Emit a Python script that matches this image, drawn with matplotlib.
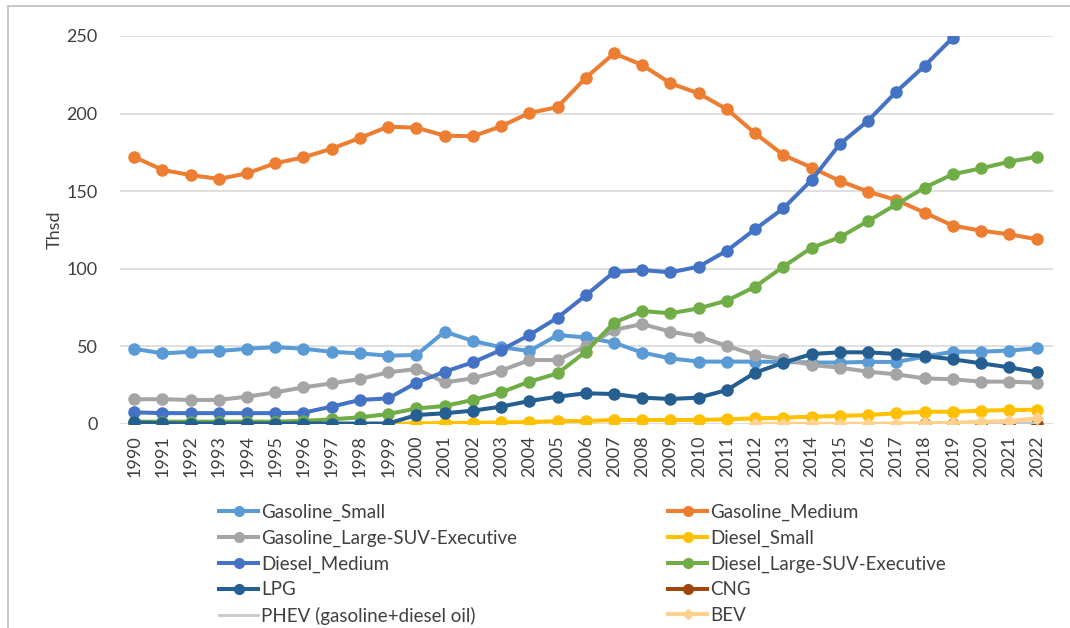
import numpy as np
import matplotlib
matplotlib.use("Agg")
import matplotlib.pyplot as plt
from matplotlib.lines import Line2D

plt.rcParams['font.family'] = ['Lato', 'DejaVu Sans']

years = list(range(1990, 2023))
nan = np.nan

gasoline_small = [48.5, 45.5, 46.5, 47, 48.5, 49.5, 48.5, 46.5, 45.5, 44, 44.5,
                  59.5, 53.5, 49.5, 47, 57.3, 55.8, 52.4, 46, 42.3, 40.2, 40.2,
                  40.2, 40, 39.6, 39.6, 40, 40, 43.4, 46.6, 46.6, 47.3, 48.8]
gasoline_medium = [172.2, 163.7, 160.4, 157.9, 161.5, 168, 171.8, 177.4, 184.3, 191.6, 190.9,
                   185.8, 185.4, 191.8, 200.4, 204.2, 223.1, 238.8, 231.3, 219.5, 213, 202.8,
                   187.3, 173.3, 165.2, 156.6, 149.7, 144.3, 136.2, 127.8, 124.6, 122.2, 119]
gasoline_large = [15.9, 16, 15.5, 15.5, 17.6, 20.4, 23.6, 26.2, 29, 33.3, 35.4,
                  26.8, 29.4, 34.4, 41.2, 41.2, 50, 60.6, 64.4, 59.5, 56.3, 50.3,
                  44.5, 41.7, 38, 36.3, 33.7, 32, 29.4, 28.8, 27.3, 27.3, 26.6]
diesel_small = [0, 0, 0, 0, 0, 0, 0, 0, 0, 0, 0.4,
                0.6, 0.8, 1, 1.2, 1.9, 1.9, 2.6, 2.6, 2.6, 2.6, 3,
                3.6, 4.1, 4.7, 5.2, 5.8, 6.9, 7.9, 7.9, 8.6, 9, 9.2]
diesel_medium = [7.5, 7, 7, 7, 7, 7, 7.3, 11.2, 15.5, 16.5, 26.6,
                 33.7, 39.7, 47.7, 57.3, 68.5, 82.9, 97.9, 99.2, 97.7, 101.4, 111.7,
                 125.5, 139, 157.2, 180.4, 195.4, 214.1, 230.7, 248.9, nan, nan, nan]
diesel_large = [1.5, 1.5, 1.5, 1.5, 1.5, 1.5, 2, 3, 4.3, 6.4, 10,
                11.6, 15.5, 20.4, 27.3, 32.6, 46.6, 65.3, 72.8, 71.3, 74.5, 79.5,
                88.5, 101.4, 113.6, 120.3, 130.8, 141.5, 152.3, 160.9, 164.7, 169, 172.2]
lpg = [1, 0.5, 0.3, 0.3, 0.3, 0.3, 0.3, 0.3, 0.3, 0.3, 5.8,
       6.9, 8.6, 11.2, 14.8, 17.6, 19.8, 19.3, 17, 16.1, 17, 21.9,
       33.1, 39.5, 45.1, 46.2, 46.2, 45.1, 43.8, 41.7, 39.1, 36.5, 33.3]
cng = [nan] * 28 + [0.2, 0.2, 0.1, 0.1, 0.1]
phev = [nan] * 22 + [0, 0, 0, 0.1, 0.1, 0.1, 0.2, 0.3, 0.4, 0.5, 0.6]
bev = [nan] * 22 + [0.2, 0.2, 0.2, 0.2, 0.2, 0.3, 0.6, 0.6, 1.5, 1.9, 3.7]

series = [
    ("Gasoline_Small", gasoline_small, "#5B9BD5", "o"),
    ("Gasoline_Medium", gasoline_medium, "#ED7D31", "o"),
    ("Gasoline_Large-SUV-Executive", gasoline_large, "#A5A5A5", "o"),
    ("Diesel_Small", diesel_small, "#FFC000", "o"),
    ("Diesel_Medium", diesel_medium, "#4472C4", "o"),
    ("Diesel_Large-SUV-Executive", diesel_large, "#70AD47", "o"),
    ("LPG", lpg, "#255E91", "o"),
    ("CNG", cng, "#9E480E", "o"),
    ("PHEV (gasoline+diesel oil)", phev, "#C9C9C9", None),
    ("BEV", bev, "#FFD18C", "D"),
]

fs = 13
txt_col = "#404040"

fig = plt.figure(figsize=(10.7, 6.28), dpi=100)
ax = fig.add_axes([120 / 1070, 1 - 424 / 628, 933 / 1070, 388 / 628])

handles = []
for name, vals, color, mk in series:
    if mk is None:
        ax.plot(years, vals, color=color, lw=2.0)
        h = Line2D([], [], color=color, lw=2.0)
    else:
        ms = 8 if mk == "o" else 6.5
        ax.plot(years, vals, color=color, lw=2.9, marker=mk, ms=ms)
        h = Line2D([], [], color=color, lw=2.9, marker=mk, ms=ms - 1)
    handles.append((h, name))

ax.set_xlim(1989.5, 2022.55)
ax.set_ylim(0, 250)
ax.set_yticks([0, 50, 100, 150, 200, 250])
ax.set_xticks(years)
ax.set_xticklabels([str(y) for y in years], rotation=90)
ax.tick_params(axis='both', length=0, labelsize=fs, colors=txt_col)
ax.tick_params(axis='y', pad=16)
ax.tick_params(axis='x', pad=8)
ax.grid(axis='y', color="#D9D9D9", lw=1.2)
ax.set_axisbelow(True)
for s in ax.spines.values():
    s.set_visible(False)
ax.set_ylabel("Thsd", fontsize=fs, color=txt_col, labelpad=3)

# legend in two columns
col1 = handles[0::2]
col2 = handles[1::2]
leg_kw = dict(frameon=False, fontsize=13.5, handlelength=2.1, handletextpad=0.15,
              labelspacing=0.45, borderaxespad=0, borderpad=0)
leg1 = fig.legend([h for h, n in col1], [n for h, n in col1], loc="upper left",
                  bbox_to_anchor=(219 / 1070, 1 - 504 / 628), **leg_kw)
leg2 = fig.legend([h for h, n in col2], [n for h, n in col2], loc="upper left",
                  bbox_to_anchor=(668 / 1070, 1 - 504 / 628), **leg_kw)
for leg in (leg1, leg2):
    for t in leg.get_texts():
        t.set_color(txt_col)

# chart area border
fig.add_artist(Line2D([8 / 1070, 1], [1 - 6 / 628, 1 - 6 / 628], color="#BFBFBF", lw=1.2))
fig.add_artist(Line2D([8 / 1070, 8 / 1070], [0, 1 - 6 / 628], color="#BFBFBF", lw=1.2))

fig.savefig("out.png", dpi=100)
